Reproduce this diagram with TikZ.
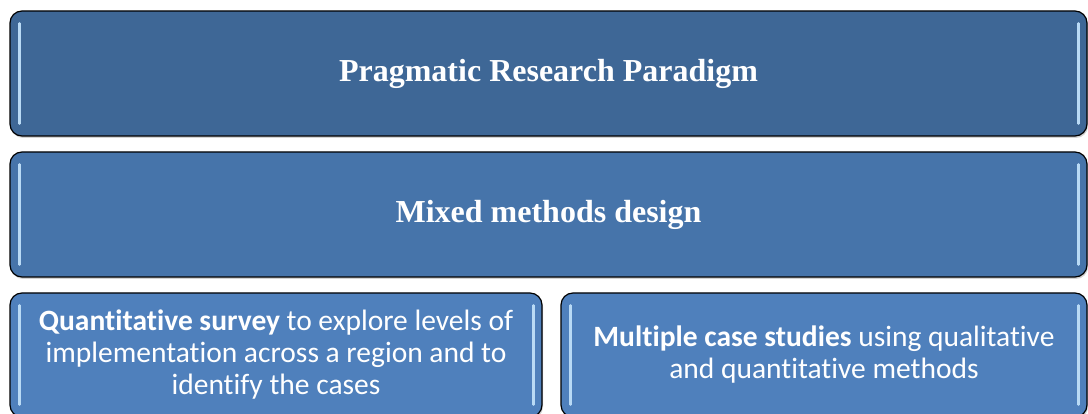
\documentclass[tikz,border=0pt]{standalone}
\usepackage{fontspec}
\setmainfont{Liberation Serif}
\newfontfamily\calibri[Ligatures=NoCommon]{Carlito}
\usetikzlibrary{shadows,positioning}

\definecolor{paradigmblue}{HTML}{3E6796}
\definecolor{designblue}{HTML}{4674AA}
\definecolor{methodblue}{HTML}{4F80BC}
\definecolor{glintblue}{HTML}{B9DAF5}

\tikzset{
  panel/.style={draw=black, line width=1.2pt, rounded corners=12pt, text=white,
    inner sep=0pt, align=center,
    drop shadow={shadow xshift=1pt, shadow yshift=-2pt, opacity=0.35}},
  titlefont/.style={font=\fontsize{32}{38}\selectfont\bfseries},
  methodfont/.style={font=\calibri\fontsize{29.5}{32}\selectfont},
  glint/.style={draw=glintblue, line width=2.5pt, line cap=round}
}

\begin{document}
\begin{tikzpicture}[x=1pt,y=-1pt]
\useasboundingbox (0,0) rectangle (1088,414);
\clip (0,0) rectangle (1088,414);

% layers
\node[panel, titlefont, fill=paradigmblue, minimum width=1077pt, minimum height=125pt]
  (paradigm) at (548.5,73.5) {Pragmatic Research Paradigm};
\node[panel, titlefont, fill=designblue, minimum width=1077pt, minimum height=125pt]
  (design) at (548.5,214.5) {Mixed methods design};
\node[panel, methodfont, fill=methodblue, minimum width=532pt, minimum height=124pt]
  (survey) at (276,355) {\textbf{Quantitative survey} to explore levels of\\implementation across a region and to\\identify the cases};
\node[panel, methodfont, fill=methodblue, minimum width=526pt, minimum height=124pt]
  (cases) at (824,355) {\textbf{Multiple case studies} using qualitative\\and quantitative methods};

% highlights
\foreach \b in {paradigm,design,survey,cases} {
  \draw[glint] ([xshift=10pt,yshift=-13pt]\b.north west) -- ([xshift=10pt,yshift=13pt]\b.south west);
  \draw[glint] ([xshift=-9pt,yshift=-13pt]\b.north east) -- ([xshift=-9pt,yshift=13pt]\b.south east);
}
\end{tikzpicture}
\end{document}
